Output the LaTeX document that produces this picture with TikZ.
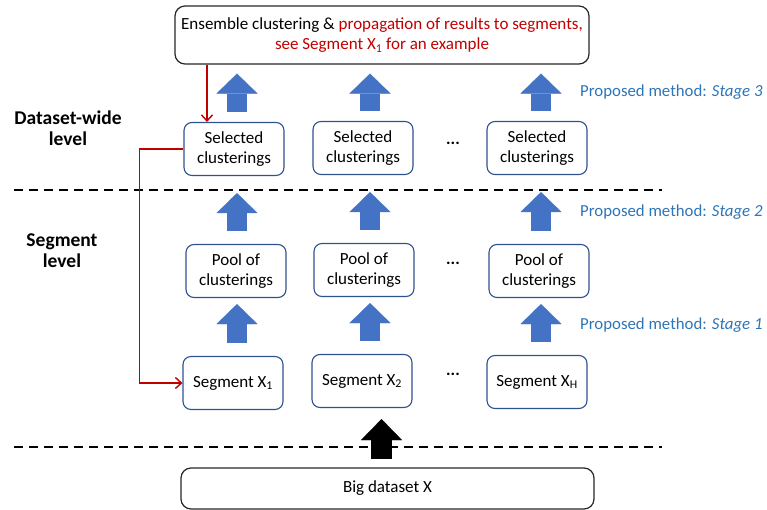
\documentclass[tikz,border=0pt]{standalone}
\usepackage{fontspec}
\setmainfont{Carlito}
\definecolor{boxblue}{RGB}{47,82,143}
\definecolor{arrowblue}{RGB}{68,114,196}
\definecolor{stageblue}{RGB}{46,117,182}
\definecolor{darkred}{RGB}{192,0,0}
\usetikzlibrary{arrows.meta,positioning}

\begin{document}
\begin{tikzpicture}[x=1pt, y=-1pt,
  stagebox/.style={draw=boxblue, line width=1.1pt, rounded corners=8pt, minimum width=100pt, minimum height=53pt, align=center, inner sep=2pt, font=\fontsize{17}{20.5}\selectfont},
  widebox/.style={draw=black!85, line width=1.2pt, rounded corners=10pt, align=center, font=\fontsize{17}{20.5}\selectfont},
  levellabel/.style={align=center, font=\fontsize{19.5}{21}\selectfont\bfseries},
  stagelabel/.style={anchor=west, text=stageblue, inner sep=0pt, font=\fontsize{16.8}{19}\selectfont},
  dotsnode/.style={inner sep=0pt, font=\fontsize{17}{20}\selectfont\bfseries},
  blockup/.style={arrowblue, line width=20pt, -{Triangle[length=20pt, width=41pt, line width=0.1pt]}},
  blackup/.style={black, line width=21pt, -{Triangle[length=21pt, width=41pt, line width=0.1pt]}},
  redlink/.style={darkred, line width=1.4pt, -{Straight Barb[length=6pt, width=11pt]}},
  sepline/.style={black, line width=2.2pt, dash pattern=on 9pt off 6pt}
]
  \useasboundingbox (0,0) rectangle (767,510);

  % Stage 3: ensemble over the whole dataset
  \node[widebox, minimum width=414pt, minimum height=58pt] (ensemble) at (382,35)
    {Ensemble clustering \& \textcolor{darkred}{propagation of results to segments,}\\
     \textcolor{darkred}{see Segment X\textsubscript{1} for an example}};

  % Selected clusterings
  \node[stagebox] (sel1) at (234,149) {Selected\\clusterings};
  \node[stagebox] (sel2) at (363,148) {Selected\\clusterings};
  \node[stagebox] (sel3) at (537,148) {Selected\\clusterings};
  \node[dotsnode] (seldots) at (453,143) {...};

  % Pools of clusterings
  \node[stagebox] (pool1) at (236,271) {Pool of\\clusterings};
  \node[stagebox] (pool2) at (364,270) {Pool of\\clusterings};
  \node[stagebox] (pool3) at (539,271) {Pool of\\clusterings};
  \node[dotsnode] (pooldots) at (453,263) {...};

  % Segments
  \node[stagebox] (seg1) at (233,383) {Segment X\textsubscript{1}};
  \node[stagebox] (seg2) at (362,381) {Segment X\textsubscript{2}};
  \node[stagebox] (seg3) at (537,382) {Segment X\textsubscript{H}};
  \node[dotsnode] (segdots) at (453,374) {...};

  % Input data
  \node[widebox, minimum width=413pt, minimum height=41pt] (bigdata) at (387.5,488.5) {Big dataset X};

  % Level separators
  \draw[sepline] (14,190) -- (662,190);
  \draw[sepline] (14,447) -- (662,447);

  % Level labels
  \node[levellabel] (dslevel) at (68,128) {Dataset-wide\\level};
  \node[levellabel] (seglevel) at (62,251) {Segment\\level};

  % Stage labels
  \node[stagelabel] (stage3) at (580,92) {Proposed method: \textit{Stage 3}};
  \node[stagelabel] (stage2) at (580,212) {Proposed method: \textit{Stage 2}};
  \node[stagelabel] (stage1) at (580,325) {Proposed method: \textit{Stage 1}};

  % Stage 1 arrows
  \draw[blockup, shorten <=13pt, shorten >=6pt] ([xshift=4pt]seg1.north) -- ([xshift=4pt]seg1.north |- pool1.south);
  \draw[blockup, shorten <=13pt, shorten >=6pt] ([xshift=8pt]seg2.north) -- ([xshift=8pt]seg2.north |- pool2.south);
  \draw[blockup, shorten <=13pt, shorten >=6pt] ([xshift=4pt]seg3.north) -- ([xshift=4pt]seg3.north |- pool3.south);

  % Stage 2 arrows
  \draw[blockup, shorten <=13pt, shorten >=17pt] ([xshift=1pt]pool1.north) -- ([xshift=1pt]pool1.north |- sel1.south);
  \draw[blockup, shorten <=13pt, shorten >=17pt] ([xshift=6pt]pool2.north) -- ([xshift=6pt]pool2.north |- sel2.south);
  \draw[blockup, shorten <=13pt, shorten >=17pt] ([xshift=2pt]pool3.north) -- ([xshift=2pt]pool3.north |- sel3.south);

  % Stage 3 arrows
  \draw[blockup, shorten <=10pt, shorten >=9pt] ([xshift=3pt]sel1.north) -- ([xshift=3pt]sel1.north |- ensemble.south);
  \draw[blockup, shorten <=10pt, shorten >=9pt] ([xshift=7pt]sel2.north) -- ([xshift=7pt]sel2.north |- ensemble.south);
  \draw[blockup, shorten <=10pt, shorten >=9pt] ([xshift=4pt]sel3.north) -- ([xshift=4pt]sel3.north |- ensemble.south);

  % Data into segments
  \draw[blackup, shorten <=8pt, shorten >=11pt] ([xshift=-6pt]bigdata.north) -- ([xshift=-6pt]bigdata.north |- seg2.south);

  % Propagation of results
  \draw[redlink] ([xshift=-175pt]ensemble.south) -- ([xshift=-175pt]ensemble.south |- sel1.north);
  \draw[redlink] (sel1.west) -- ++(-44,0) |- (seg1.west);
\end{tikzpicture}
\end{document}
